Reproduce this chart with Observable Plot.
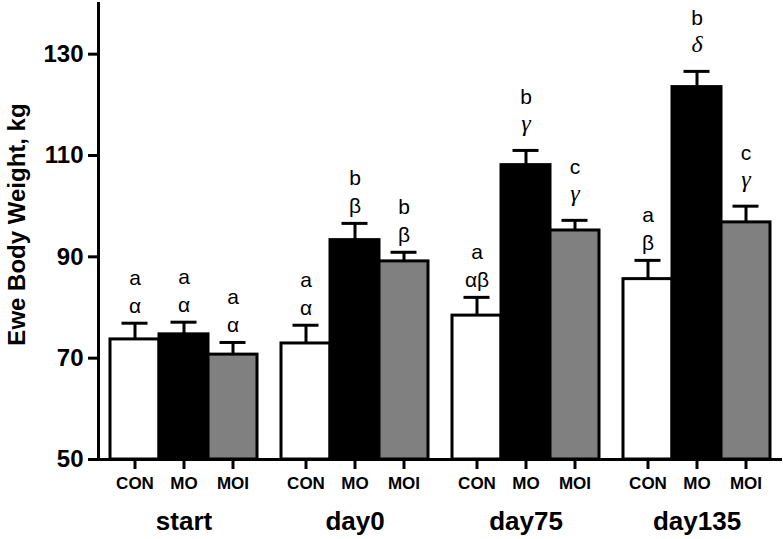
<!DOCTYPE html>
<html>
<head>
<meta charset="utf-8">
<script src="https://cdn.jsdelivr.net/npm/d3@7"></script>
<script src="https://cdn.jsdelivr.net/npm/@observablehq/plot@0.6"></script>
<style>
  html, body { margin: 0; padding: 0; background: #fff; }
  #chart svg { font-family: "Liberation Sans", Arial, sans-serif; }
</style>
</head>
<body>
<div id="chart"></div>
<script>
// ---- data ----
const times = ["start", "day0", "day75", "day135"];
const treatments = ["CON", "MO", "MOI"];
const conMean = [73.7, 72.9, 78.4, 85.6];
const moMean  = [74.7, 93.3, 108.1, 123.5];
const moiMean = [70.7, 89.1, 95.2, 96.8];
const conSem = [3.2, 3.6, 3.6, 3.7];
const moSem  = [2.4, 3.3, 2.9, 3.1];
const moiSem = [2.4, 1.8, 2.0, 3.2];
const conLatin = ["a", "a", "a", "a"];
const moLatin  = ["a", "b", "b", "b"];
const moiLatin = ["a", "b", "c", "c"];
const conGreek = ["α", "α", "αβ", "β"];
const moGreek  = ["α", "β", "γ", "δ"];
const moiGreek = ["α", "β", "γ", "γ"];
const yTicks = [50, 70, 90, 110, 130];
const yLabel = "Ewe Body Weight, kg";
const fills = ["#ffffff", "#000000", "#808080"];

// ---- table built from arrays ----
const series = [
  {t: "CON", mean: conMean, sem: conSem, latin: conLatin, greek: conGreek},
  {t: "MO",  mean: moMean,  sem: moSem,  latin: moLatin,  greek: moGreek},
  {t: "MOI", mean: moiMean, sem: moiSem, latin: moiLatin, greek: moiGreek}
];
const rows = [];
times.forEach((time, i) => {
  series.forEach(s => {
    rows.push({time, treatment: s.t, mean: s.mean[i], top: s.mean[i] + s.sem[i],
               latin: s.latin[i], greek: s.greek[i]});
  });
});
const isItalic = d => /[γδ]/.test(d.greek);
const uprightRows = rows.filter(d => !isItalic(d));
const italicRows = rows.filter(isItalic);

const chart = Plot.plot({
  width: 783,
  height: 539,
  marginLeft: 98,
  marginRight: 0,
  marginTop: 3,
  marginBottom: 80,
  style: {fontFamily: "'Liberation Sans', Arial, sans-serif", color: "black", background: "white"},
  fx: {domain: times, paddingInner: 0.14, paddingOuter: 0.07, label: null},
  x: {domain: treatments, padding: 0, label: null},
  y: {domain: [50, 140], label: null},
  color: {domain: treatments, range: fills},
  marks: [
    Plot.barY(rows, {fx: "time", x: "treatment", y1: 50, y2: "mean", fill: "treatment",
                     stroke: "black", strokeWidth: 3}),
    Plot.ruleX(rows, {fx: "time", x: "treatment", y1: "mean", y2: "top", stroke: "black", strokeWidth: 3}),
    Plot.tickY(rows, {fx: "time", x: "treatment", y: "top", stroke: "black", strokeWidth: 3,
                      insetLeft: 11.5, insetRight: 11.5}),
    // upright greek + latin
    Plot.text(uprightRows, {fx: "time", x: "treatment", y: "top", text: "greek",
                      fontSize: 21, lineAnchor: "bottom", dy: -10, fill: "black"}),
    Plot.text(uprightRows, {fx: "time", x: "treatment", y: "top", text: "latin",
                      fontSize: 21, lineAnchor: "bottom", dy: -38, fill: "black"}),
    // italic greek (γ, δ) + latin, set a little higher as in the reference
    Plot.text(italicRows, {fx: "time", x: "treatment", y: "top", text: "greek",
                      fontSize: 24, fontStyle: "italic", fontFamily: "'Liberation Serif', serif",
                      lineAnchor: "bottom", dy: -19, fill: "black"}),
    Plot.text(italicRows, {fx: "time", x: "treatment", y: "top", text: "latin",
                      fontSize: 21, lineAnchor: "bottom", dy: -46, fill: "black"}),
    Plot.ruleY([50], {stroke: "black", strokeWidth: 3, insetLeft: -12, insetRight: -12}),
    Plot.frame({anchor: "left", facetAnchor: "left", insetLeft: -12, stroke: "black", strokeWidth: 3}),
    Plot.axisY({ticks: yTicks, tickSize: 10, tickPadding: 5, fontSize: 24, fontWeight: "bold",
                strokeWidth: 3, dx: -12, label: null}),
    Plot.text([{time: "start", label: yLabel}], {fx: "time", text: "label", frameAnchor: "left",
                textAnchor: "middle", rotate: -90, dx: -93, dy: -7, fontSize: 24, fontWeight: "bold",
                fill: "black"}),
    Plot.axisX({tickSize: 10, tickPadding: 7, fontSize: 17, fontWeight: "bold", strokeWidth: 3, label: null}),
    Plot.axisFx({anchor: "bottom", tickSize: 0, tickPadding: 52, fontSize: 26, fontWeight: "bold", label: null})
  ]
});
document.getElementById("chart").appendChild(chart);
</script>
</body>
</html>
